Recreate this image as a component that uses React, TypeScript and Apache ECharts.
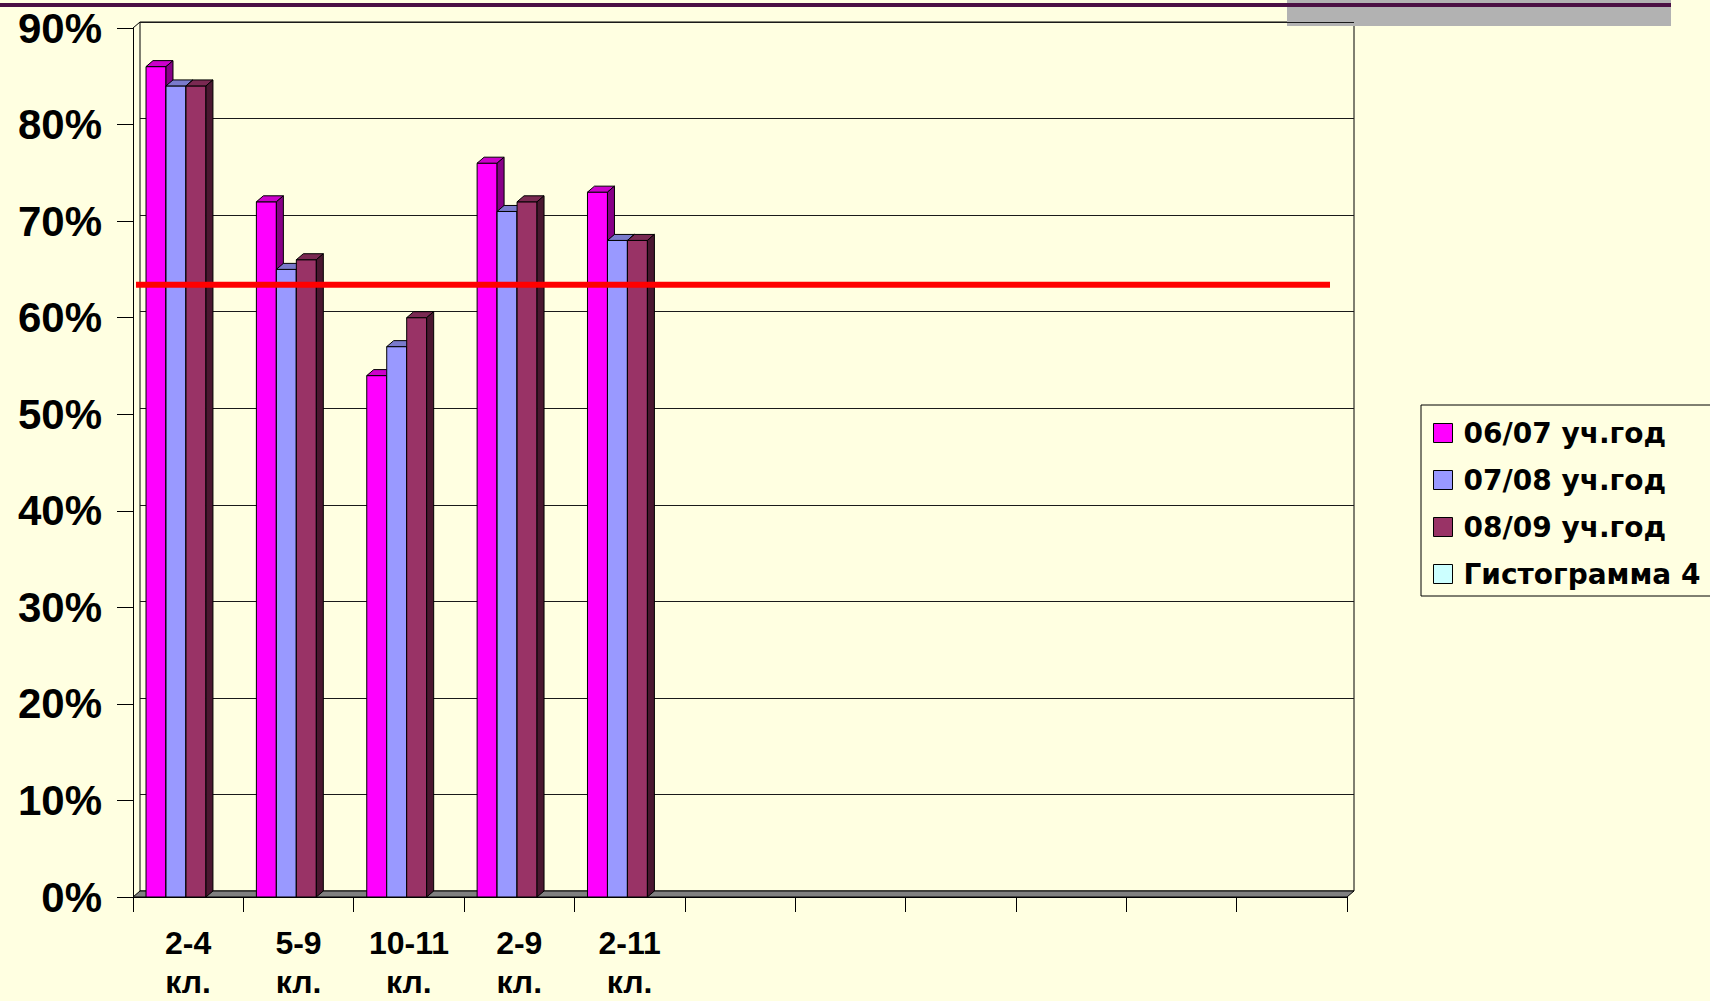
import React, { useEffect, useRef } from 'react';
import * as echarts from 'echarts';

// ---- data ----
const categories = ['2-4\nкл.', '5-9\nкл.', '10-11\nкл.', '2-9\nкл.', '2-11\nкл.', '', '', '', '', '', ''];
const seriesNames = ['06/07 уч.год', '07/08 уч.год', '08/09 уч.год', 'Гистограмма 4'];
const values0607 = [86, 72, 54, 76, 73];
const values0708 = [84, 65, 57, 71, 68];
const values0809 = [84, 66, 60, 72, 68];
const valuesHist4: number[] = [];
const yMin = 0;
const yMax = 90;
const yInterval = 10;
const redLineValue = 63.4;

// ---- styles ----
const BG = '#FFFFE1';
const faces = [
  { front: '#FF00FF', top: '#CC00CC', side: '#880088' },
  { front: '#9999FF', top: '#7A7ACC', side: '#4D4D80' },
  { front: '#993366', top: '#7A2952', side: '#4A1730' },
  { front: '#CCFFFF', top: '#A3CCCC', side: '#668080' },
];
const DEPTH_X = 7;
const DEPTH_Y = 6;

// front plane (axes)
const F_LEFT = 133, F_RIGHT = 1347, F_TOP = 28, F_BOTTOM = 897;
// back wall
const B_LEFT = F_LEFT + DEPTH_X, B_RIGHT = F_RIGHT + DEPTH_X, B_TOP = F_TOP - DEPTH_Y, B_BOTTOM = F_BOTTOM - DEPTH_Y;
const W = 1710, H = 1001;

const makeRender = (k: number) => (params: any, api: any) => {
  const cat = api.value(0);
  const v = api.value(1);
  const base = api.coord([cat, 0]);
  const top = api.coord([cat, v]);
  const band = api.size([1, 0])[0];
  const w = band * 0.181;
  const x0 = base[0] - band * 0.382 + k * w;
  const yb = base[1];
  const yt = top[1];
  const f = faces[k];
  const stroke = { stroke: '#000', lineWidth: 1 };
  return {
    type: 'group',
    children: [
      { type: 'rect', shape: { x: x0, y: yt, width: w, height: yb - yt }, style: { fill: f.front, ...stroke } },
      {
        type: 'polygon',
        shape: { points: [[x0, yt], [x0 + w, yt], [x0 + w + DEPTH_X, yt - DEPTH_Y], [x0 + DEPTH_X, yt - DEPTH_Y]] },
        style: { fill: f.top, ...stroke },
      },
      {
        type: 'polygon',
        shape: { points: [[x0 + w, yt], [x0 + w + DEPTH_X, yt - DEPTH_Y], [x0 + w + DEPTH_X, yb - DEPTH_Y], [x0 + w, yb]] },
        style: { fill: f.side, ...stroke },
      },
    ],
  };
};

const allValues = [values0607, values0708, values0809, valuesHist4];

export default function App() {
  const ref = useRef<HTMLDivElement>(null);
  useEffect(() => {
    if (!ref.current) return;
    const chart = echarts.init(ref.current, undefined, { renderer: 'svg' });
    const labelFont = { fontFamily: 'Liberation Sans, Arial, sans-serif', fontWeight: 'bold' as const, color: '#000' };
    const option: any = {
      animation: false,
      backgroundColor: BG,
      graphic: [
        { type: 'rect', z: 0, shape: { x: 1287, y: 0, width: 384, height: 26 }, style: { fill: '#B2B2B2' } },
        { type: 'rect', z: 0, shape: { x: 0, y: 3, width: 1671, height: 4 }, style: { fill: '#4B0F44' } },
        {
          type: 'polygon',
          z: 1,
          shape: { points: [[F_LEFT, F_BOTTOM], [F_RIGHT, F_BOTTOM], [B_RIGHT, B_BOTTOM], [B_LEFT, B_BOTTOM]] },
          style: { fill: '#808080', stroke: '#000', lineWidth: 1 },
        },
        {
          type: 'line', z: 1,
          shape: { x1: F_LEFT, y1: F_TOP, x2: B_LEFT, y2: B_TOP },
          style: { stroke: '#000', lineWidth: 1 },
        },
      ],
      legend: {
        orient: 'vertical',
        left: 1421,
        top: 405,
        padding: [13, 30, 7, 12],
        itemWidth: 19,
        itemHeight: 19,
        itemGap: 17,
        icon: 'rect',
        borderColor: '#000',
        borderWidth: 1,
        itemStyle: { borderColor: '#000', borderWidth: 1 },
        textStyle: { fontFamily: 'DejaVu Sans', fontWeight: 'bold', fontSize: 28, color: '#000', lineHeight: 30, padding: [0, 0, 0, 6] },
        data: seriesNames,
      },
      grid: [
        { left: F_LEFT, right: W - F_RIGHT, top: F_TOP, bottom: H - F_BOTTOM, outerBoundsMode: 'none', containLabel: false },
        { left: B_LEFT, right: W - B_RIGHT, top: B_TOP, bottom: H - B_BOTTOM, outerBoundsMode: 'none', containLabel: false, show: true, borderColor: '#000', borderWidth: 1, backgroundColor: 'transparent' },
        { left: 136, right: W - 1330, top: F_TOP, bottom: H - F_BOTTOM, outerBoundsMode: 'none', containLabel: false },
      ],
      xAxis: [
        {
          type: 'category', gridIndex: 0, data: categories,
          axisLine: { show: true, lineStyle: { color: '#000', width: 1 } },
          axisTick: { show: true, length: 15, lineStyle: { color: '#000' }, interval: 0 },
          axisLabel: { ...labelFont, fontSize: 32, lineHeight: 39, margin: 26, interval: 0 },
          splitLine: { show: false },
        },
        { type: 'category', gridIndex: 1, data: categories, show: false },
        { type: 'value', gridIndex: 2, min: 0, max: 1, show: false },
      ],
      yAxis: [
        {
          type: 'value', gridIndex: 0, min: yMin, max: yMax, interval: yInterval,
          axisLine: { show: true, lineStyle: { color: '#000', width: 1 } },
          axisTick: { show: true, length: 16, lineStyle: { color: '#000' } },
          axisLabel: { ...labelFont, fontSize: 42, margin: 31, padding: [12, 0, 0, 0], formatter: '{value}%' },
          splitLine: { show: false },
        },
        {
          type: 'value', gridIndex: 1, min: yMin, max: yMax, interval: yInterval,
          axisLine: { show: false }, axisTick: { show: false }, axisLabel: { show: false },
          splitLine: { show: true, lineStyle: { color: '#1a1a1a', width: 1 } },
        },
        { type: 'value', gridIndex: 2, min: yMin, max: yMax, show: false },
      ],
      series: [
        ...allValues.map((vals, k) => ({
          type: 'custom',
          name: seriesNames[k],
          xAxisIndex: 0,
          yAxisIndex: 0,
          z: 3,
          itemStyle: { color: faces[k].front },
          encode: { x: 0, y: 1 },
          renderItem: makeRender(k),
          data: vals.map((v, i) => [i, v]),
        })),
        {
          type: 'custom',
          name: 'red',
          xAxisIndex: 2,
          yAxisIndex: 2,
          z: 10,
          silent: true,
          encode: { x: 0, y: 1 },
          renderItem: (params: any, api: any) => {
            const cs = params.coordSys;
            const y = api.coord([0, api.value(1)])[1];
            return { type: 'line', shape: { x1: cs.x, y1: y, x2: cs.x + cs.width, y2: y }, style: { stroke: '#FF0000', lineWidth: 6 } };
          },
          data: [[0, redLineValue]],
        },
      ],
    };
    chart.setOption(option);
    return () => chart.dispose();
  }, []);
  return <div ref={ref} style={{ position: 'fixed', left: 0, top: 0, width: W, height: H }} />;
}
